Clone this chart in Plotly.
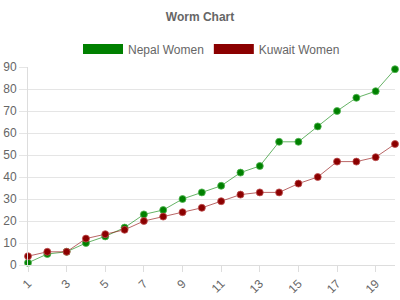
import plotly.graph_objects as go

x_vals = list(range(1, 21))
nepal = [1, 5, 6, 10, 13, 17, 23, 25, 30, 33, 36, 42, 45, 56, 56, 63, 70, 76, 79, 89]
kuwait = [4, 6, 6, 12, 14, 16, 20, 22, 24, 26, 29, 32, 33, 33, 37, 40, 47, 47, 49, 55]
series_names = ["Nepal Women", "Kuwait Women"]
tick_vals = list(range(1, 20, 2))
tick_text = [str(v) for v in tick_vals]

colors = ["#008000", "#8b0000"]
line_colors = ["rgba(0,128,0,0.6)", "rgba(139,0,0,0.6)"]
border_colors = ["rgba(80,180,80,0.8)", "rgba(190,80,80,0.8)"]

fig = go.Figure()
for name, vals, c, lc, bc in zip(series_names, [nepal, kuwait], colors, line_colors, border_colors):
    fig.add_trace(go.Scatter(
        x=x_vals, y=vals, mode="lines+markers", name=name, showlegend=False,
        line=dict(color=lc, width=1),
        marker=dict(color=c, size=7, line=dict(color=bc, width=1)),
        cliponaxis=False,
    ))
for name, c, bc in zip(series_names, colors, border_colors):
    fig.add_trace(go.Scatter(
        x=[None], y=[None], mode="lines", name=name,
        line=dict(color=c, width=12),
    ))

fig.update_layout(
    width=400, height=300,
    margin=dict(l=28, r=5, t=67, b=35, autoexpand=False),
    paper_bgcolor="white", plot_bgcolor="white",
    font=dict(family="Liberation Sans, Arial, sans-serif", size=12, color="#666"),
    title=dict(text="<b>Worm Chart</b>", x=0.5, xanchor="center", y=0.945, yanchor="middle",
               font=dict(size=12, color="#666")),
    legend=dict(orientation="h", x=0.5, xanchor="center", y=0.837, yref="container",
                yanchor="middle", font=dict(size=12, color="#666"),
                itemwidth=40, bgcolor="rgba(0,0,0,0)"),
    showlegend=True,
)

fig.update_xaxes(
    range=[1, 20], tickvals=tick_vals, ticktext=tick_text, tickangle=-45,
    showgrid=False, zeroline=False, showline=True, linecolor="#ddd", linewidth=1,
    ticks="outside", ticklen=6, tickcolor="#ddd",
    tickfont=dict(size=12, color="#666"),
)
fig.update_yaxes(
    range=[0, 90], dtick=10, showgrid=True, gridcolor="#e5e5e5", gridwidth=1,
    zeroline=False, showline=True, linecolor="#ddd", linewidth=1,
    ticks="outside", ticklen=8, tickcolor="#e5e5e5",
    tickfont=dict(size=12, color="#666"),
)

fig.write_html("out.html")
